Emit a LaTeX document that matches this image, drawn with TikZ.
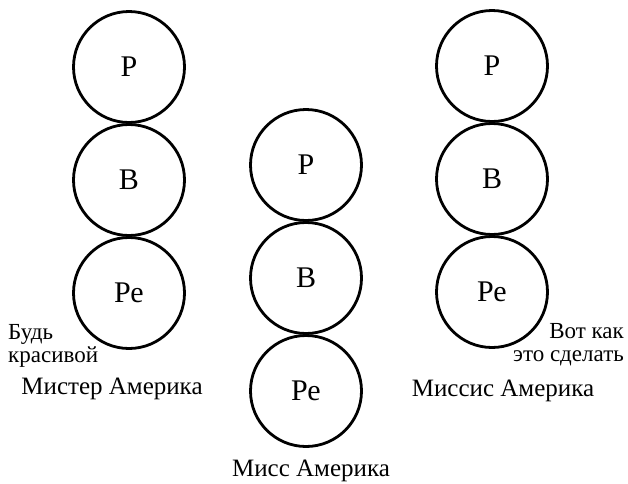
\documentclass[tikz,border=0pt]{standalone}
\usepackage{fontspec}
\setmainfont{Liberation Serif}
\usepackage{tikz}
\usetikzlibrary{positioning}
\tikzset{
	ring/.style={draw, circle, line width=2.8pt, minimum size=111pt, inner sep=0pt, font=\fontsize{30}{30}\selectfont}
}
\tikzset{
	captiontext/.style={font=\fontsize{25}{25}\selectfont, inner sep=0pt}
}
\tikzset{
	notetext/.style={font=\fontsize{23}{23}\selectfont, inner sep=0pt}
}

\begin{document}
\begin{tikzpicture}[x=1pt, y=-1pt]
      \useasboundingbox (0,0) rectangle (628,483);
      % Mister: three rings from the top
      \node[ring] (mrP) at (129,67) {Р};
      \node[ring] (mrB) at (129,180) {В};
      \node[ring] (mrPe) at (129,293) {Ре};
      \node[captiontext] (mrCap) at (112,389) {Мистер Америка};
      \node[notetext, align=left, anchor=west] (mrNote) at (8,346) {Будь\\красивой};
      % Miss: same rings, moved down
      \node[ring] (msP) at (306,165) {Р};
      \node[ring] (msB) at (306,278) {В};
      \node[ring] (msPe) at (306,391) {Ре};
      \node[captiontext] (msCap) at (311,471) {Мисс Америка};
      % Missis
      \node[ring] (mssP) at (492,66) {Р};
      \node[ring] (mssB) at (492,179) {В};
      \node[ring] (mssPe) at (492,292) {Ре};
      \node[captiontext] (mssCap) at (503,391) {Миссис Америка};
      \node[notetext, align=right, anchor=east] (mssNote) at (624,345) {Вот как\\это сделать};
    \end{tikzpicture}
\end{document}
